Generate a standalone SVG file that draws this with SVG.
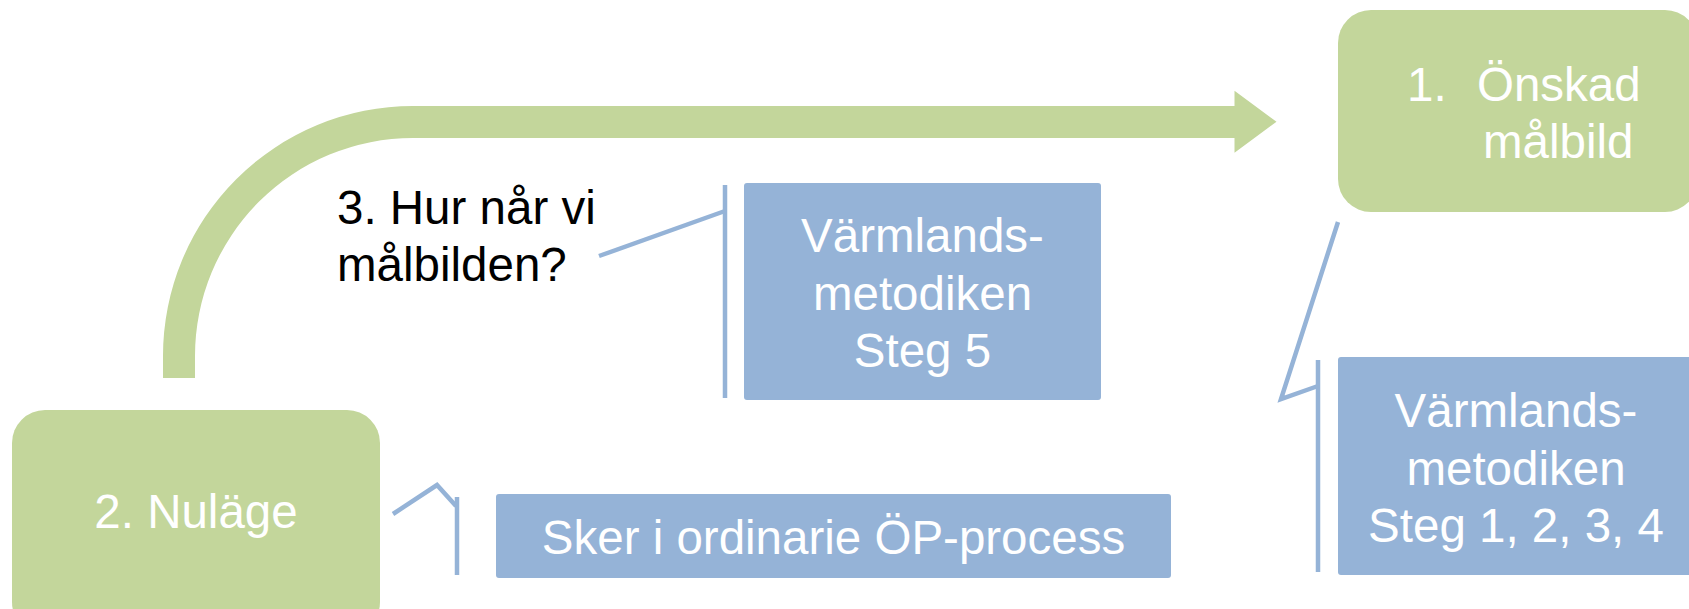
<svg xmlns="http://www.w3.org/2000/svg" width="1689" height="609" viewBox="0 0 1689 609">
<style>
.g{fill:#C3D69B}
.b{fill:#95B3D7}
.t{font-family:"Liberation Sans",Arial,sans-serif;font-size:47.5px;fill:#FFFFFF}
.k{font-family:"Liberation Sans",Arial,sans-serif;font-size:47.5px;fill:#000000}
.c{fill:none;stroke:#95B3D7;stroke-width:4.5;stroke-linejoin:miter}
</style>
<rect width="1689" height="609" fill="#FFFFFF"/>
<g id="arrow">
<path class="g" d="M163,378 L163,356 A250,250 0 0 1 413,106 L1234.5,106 L1234.5,90.7 L1276.5,121.7 L1234.5,152.7 L1234.5,138 L413,138 A218,218 0 0 0 195,356 L195,378 Z"/>
</g>
<g id="node-onskad">
<rect class="g" x="1338" y="10" width="360" height="202" rx="33" ry="33"/>
<text class="t" x="1407" y="101">1.</text>
<text class="t" x="1477" y="101">Önskad</text>
<text class="t" x="1483" y="158">målbild</text>
</g>
<g id="node-nulage">
<rect class="g" x="12" y="410" width="368" height="225" rx="33" ry="33"/>
<text class="t" x="196" y="528" text-anchor="middle">2. Nuläge</text>
</g>
<g id="node-hur">
<text class="k" x="337" y="224">3. Hur når vi</text>
<text class="k" x="337" y="281">målbilden?</text>
</g>
<g id="node-steg5">
<rect class="b" x="744" y="183" width="357" height="217" rx="3" ry="3"/>
<text class="t" x="922.5" y="252" text-anchor="middle">Värmlands-</text>
<text class="t" x="922.5" y="310" text-anchor="middle">metodiken</text>
<text class="t" x="922.5" y="367" text-anchor="middle">Steg 5</text>
</g>
<g id="node-steg1234">
<rect class="b" x="1338" y="357" width="356" height="218" rx="3" ry="3"/>
<text class="t" x="1516" y="427" text-anchor="middle">Värmlands-</text>
<text class="t" x="1516" y="485" text-anchor="middle">metodiken</text>
<text class="t" x="1516" y="542" text-anchor="middle">Steg 1, 2, 3, 4</text>
</g>
<g id="node-sker">
<rect class="b" x="496" y="494" width="675" height="84" rx="3" ry="3"/>
<text class="t" x="833.5" y="554" text-anchor="middle">Sker i ordinarie ÖP-process</text>
</g>
<g id="connectors">
<polyline class="c" points="599,256 725,211"/>
<line class="c" x1="725" y1="185" x2="725" y2="398"/>
<polyline class="c" points="1338,222 1281,399 1318,386"/>
<line class="c" x1="1318" y1="360" x2="1318" y2="572"/>
<polyline class="c" points="393,514 437,485 456,506"/>
<line class="c" x1="457" y1="497" x2="457" y2="575"/>
</g>
</svg>
